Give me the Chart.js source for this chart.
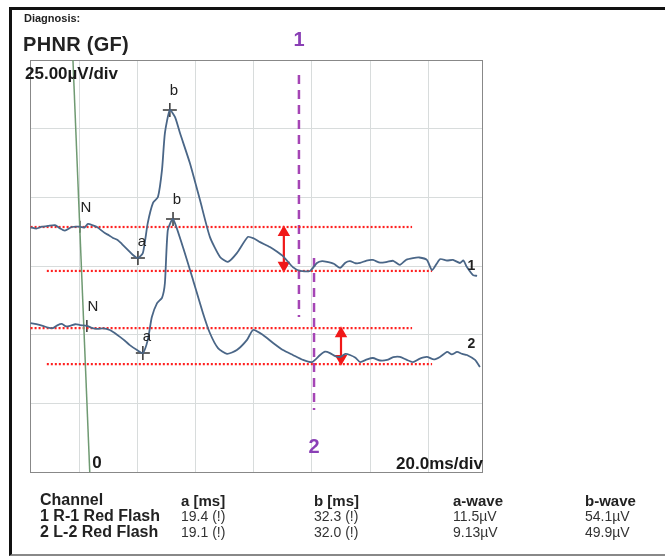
<!DOCTYPE html>
<html>
<head>
  <title>PHNR (GF)</title>
  <script src="https://cdn.jsdelivr.net/npm/chart.js@4"></script>
  <style>
    body { margin: 0; background: #fff; font-family: "Liberation Sans", Arial, sans-serif; }
    #wrap { position: relative; width: 665px; height: 556px; overflow: hidden; }
    #frame { position: absolute; left: 9px; top: 7px; width: 660px; height: 544px;
             border-left: 3px solid #111; border-top: 3px solid #111; border-bottom: 2px solid #888; }
    .t { position: absolute; white-space: nowrap; color: #222; line-height: 1; }
    .b { font-weight: bold; }
  </style>
</head>
<body>
<div id="wrap">
  <div id="frame"></div>
  <canvas id="erg" width="665" height="556" style="position:absolute;left:0;top:0"></canvas>
  <div class="t b" style="left:24px;top:13px;font-size:11px">Diagnosis:</div>
  <div class="t b" style="left:23px;top:34px;font-size:20px;letter-spacing:0.3px">PHNR (GF)</div>
  <div id="table"></div>
</div>

<script>
  // x in ms (20 ms/div), y in µV (25 µV/div), channel offsets as displayed
  const trace1 = [
    [-17, 89.1], [-15, 88.6], [-13.1, 89.3], [-11, 89.6], [-8.6, 89.9], [-7, 88.8], [-5.2, 87.9],
    [-2.8, 89.2], [0, 89.3], [1.5, 89.0], [2.8, 90.3], [4.5, 89.8], [5.9, 89.2], [8.6, 87.0],
    [10, 86.2], [11.4, 85.2], [13, 84.5], [14.5, 83.0], [16.6, 80.8], [18.3, 79.0], [20.0, 77.9],
    [21.7, 79.7], [23.4, 90.7], [25.2, 98.0], [26.9, 100.1], [28.3, 110.0], [29.3, 123.4],
    [31.0, 131.8], [32.8, 129.2], [34.5, 123.4], [37.9, 112.5], [41.4, 99.0], [44.8, 85.6],
    [48.3, 78.3], [51.0, 76.5], [54.1, 79.7], [57.9, 85.6], [60, 85.0], [62.1, 83.7], [65.5, 81.9],
    [68, 80.2], [70.0, 78.6], [73.4, 74.6], [75.9, 73.2], [79.3, 73.2], [81.7, 76.1], [83.5, 76.8],
    [85.2, 76.5], [87.5, 75.8], [89.7, 74.3], [91.5, 76.2], [93.1, 76.8], [95, 76.0], [96.6, 76.1],
    [98.8, 77.0], [101.0, 77.2], [103.5, 76.2], [105.9, 76.5], [108, 76.9], [110.3, 75.4],
    [112.5, 77.3], [114.8, 77.9], [117, 78.1], [119.6, 77.2], [121.4, 73.5], [124.1, 77.5],
    [126.5, 77.0], [128.6, 77.2], [131.0, 76.1], [132.2, 77.0], [133.4, 74.6], [135.5, 71.7], [136.9, 71.4]
  ];
  const trace2 = [
    [-17, 54.2], [-15, 53.8], [-12.8, 53.2], [-11, 52.6], [-9.3, 52.4], [-7.8, 53.4], [-6.2, 53.9],
    [-4.8, 53.0], [-3.4, 53.2], [-1.5, 53.8], [0, 53.5], [2.4, 53.2], [4, 52.5], [5.9, 52.1],
    [8, 52.3], [10.3, 51.7], [12, 50.6], [13.8, 49.2], [15.5, 47.8], [17.2, 46.2], [19.7, 44.4],
    [21.7, 43.3], [23.4, 48.1], [24.8, 56.4], [26.6, 61.5], [28.3, 63.4], [29.3, 68.8],
    [30.3, 88.1], [32.1, 92.1], [35.5, 81.9], [39.0, 69.9], [42.4, 57.9], [44.8, 50.6],
    [47.6, 45.1], [50.7, 43.0], [54.1, 44.4], [57.6, 48.1], [59.7, 51.7], [63.1, 49.9],
    [66.6, 47.0], [70.0, 44.4], [73.4, 42.6], [76.9, 40.8], [80.0, 40.0], [82.8, 42.6],
    [84.5, 43.8], [86.2, 43.3], [88, 42.2], [89.7, 41.9], [91.5, 43.0], [93.1, 42.6], [95, 41.6],
    [96.6, 40.0], [99, 41.0], [101.0, 41.5], [103.5, 40.6], [105.9, 40.8], [108, 41.8], [110.3, 41.9],
    [112.5, 40.9], [114.8, 40.0], [117, 41.2], [119.6, 41.9], [122, 41.0], [124.1, 41.9],
    [126.6, 43.7], [128.2, 42.8], [130.0, 43.7], [131.8, 43.0], [133.4, 42.6], [136.2, 40.8], [137.9, 38.2]
  ];
  const zeroLine = [[-2.4, 150], [3.4, 0]];
  // red dotted baseline/trough lines [xStart, xEnd, y]
  const refLines = [[-17, 114.5, 89.2], [-11.4, 121.4, 73.2], [-17, 114.5, 52.4], [-11.4, 121.4, 39.3]];
  // red double arrows [x, yTop, yBottom]
  const arrows = [[70.3, 89.2, 73.2], [90.0, 52.4, 39.3]];
  // purple dashed cursors [x, yTop, yBottom, label, labelY]
  const cursors = [[75.5, 144.5, 56.4, '1', 157.2], [80.7, 77.9, 22.6, '2', 8.8]];
  // peak markers [x, y, label]
  const peaks = [[20.0, 77.9, 'a'], [31.0, 131.8, 'b'], [21.7, 43.3, 'a'], [32.1, 92.1, 'b']];
  const nMarks = [[0, 89.3, 'N'], [2.4, 53.2, 'N']];
  const traceEnds = [[131.5, 75.0, '1'], [131.5, 46.5, '2']];
  const xTicks = [0, 20, 40, 60, 80, 100, 120];
  const yTicks = [25, 50, 75, 100, 125];

  const channels = ['Channel', '1 R-1 Red Flash', '2 L-2 Red Flash'];
  const aMs = ['a [ms]', '19.4 (!)', '19.1 (!)'];
  const bMs = ['b [ms]', '32.3 (!)', '32.0 (!)'];
  const aWave = ['a-wave', '11.5µV', '9.13µV'];
  const bWave = ['b-wave', '54.1µV', '49.9µV'];

  // results table, row centres at 500 / 516 / 532
  const cols = [[channels, 40], [aMs, 181], [bMs, 314], [aWave, 453], [bWave, 585]];
  const rowsMid = [500, 516, 532];
  let html = '';
  cols.forEach(([vals, left], ci) => {
    vals.forEach((v, ri) => {
      let size = 14, cls = 't', color = '';
      if (ci === 0) { cls += ' b'; size = 16; }
      else if (ri === 0) { cls += ' b'; size = 15; }
      else color = 'color:#333;';
      const top = Math.round(rowsMid[ri] - size / 2);
      html += `<div class="${cls}" style="left:${left}px;top:${top}px;font-size:${size}px;${color}">${v}</div>`;
    });
  });
  document.getElementById('table').innerHTML = html;

  const pts = arr => arr.map(([x, y]) => ({ x, y }));
  const traceColor = '#4a6687';
  const datasets = [
    { data: pts(trace1), borderColor: traceColor, borderWidth: 1.8, pointRadius: 0, tension: 0.2 },
    { data: pts(trace2), borderColor: traceColor, borderWidth: 1.8, pointRadius: 0, tension: 0.2 },
    { data: pts(zeroLine), borderColor: '#6f9a72', borderWidth: 1.5, pointRadius: 0 }
  ];
  refLines.forEach(([x0, x1, y]) => datasets.push({
    data: [{ x: x0, y }, { x: x1, y }], borderColor: '#ff2020', borderWidth: 2.2,
    borderDash: [2, 2], pointRadius: 0
  }));
  cursors.forEach(([x, y0, y1]) => datasets.push({
    data: [{ x, y: y0 }, { x, y: y1 }], borderColor: '#a545b5', borderWidth: 2.5,
    borderDash: [9, 6], pointRadius: 0
  }));
  arrows.forEach(([x, y0, y1]) => datasets.push({
    data: [{ x, y: y0 - 2 }, { x, y: y1 + 2 }], borderColor: '#f01818', borderWidth: 2.2,
    pointStyle: 'triangle', pointRadius: 5, pointRotation: [0, 180],
    pointBackgroundColor: '#f01818', pointBorderColor: '#f01818'
  }));
  datasets.push({ data: pts(peaks), showLine: false, pointStyle: 'cross', pointRadius: 7,
    pointBorderWidth: 1.5, pointBorderColor: '#333' });
  datasets.push({ data: pts(nMarks), showLine: false, pointStyle: 'line', pointRotation: 90,
    pointRadius: 6, pointBorderWidth: 1.5, pointBorderColor: '#333' });

  const labels = {
    id: 'labels',
    afterDatasetsDraw(chart) {
      const { ctx, scales: { x, y } } = chart;
      ctx.save();
      ctx.fillStyle = '#222';
      ctx.textAlign = 'center';
      ctx.textBaseline = 'middle';
      ctx.font = '15px "Liberation Sans", Arial, sans-serif';
      peaks.concat(nMarks).forEach(([vx, vy, t]) => {
        const dy = t === 'a' ? -16 : -19;
        const dx = t === 'N' ? 6 : 4;
        ctx.fillText(t, x.getPixelForValue(vx) + dx, y.getPixelForValue(vy) + dy);
      });
      ctx.font = 'bold 14px "Liberation Sans", Arial, sans-serif';
      traceEnds.forEach(([vx, vy, t]) => ctx.fillText(t, x.getPixelForValue(vx) + 10, y.getPixelForValue(vy)));
      ctx.font = 'bold 20px "Liberation Sans", Arial, sans-serif';
      ctx.fillStyle = '#8a3fb5';
      cursors.forEach(([vx, , , t, ly]) => ctx.fillText(t, x.getPixelForValue(vx), y.getPixelForValue(ly)));
      ctx.fillStyle = '#1a1a1a';
      ctx.font = 'bold 17px "Liberation Sans", Arial, sans-serif';
      ctx.textAlign = 'left';
      ctx.fillText('25.00µV/div', chart.chartArea.left - 5, chart.chartArea.top + 14);
      ctx.fillText('0', x.getPixelForValue(4.3), chart.chartArea.bottom - 9);
      ctx.textAlign = 'right';
      ctx.fillText('20.0ms/div', chart.chartArea.right + 1, chart.chartArea.bottom - 8);
      ctx.restore();
    }
  };

  new Chart(document.getElementById('erg').getContext('2d'), {
    type: 'scatter',
    data: { datasets: datasets.map(d => Object.assign({ showLine: true, fill: false }, d)) },
    options: {
      responsive: false,
      animation: false,
      devicePixelRatio: 1,
      layout: { padding: { left: 30, top: 60, right: 183, bottom: 84 } },
      plugins: { legend: { display: false }, tooltip: { enabled: false } },
      scales: {
        x: {
          type: 'linear', min: -17.2, max: 138.6,
          afterBuildTicks: s => { s.ticks = xTicks.map(v => ({ value: v })); },
          ticks: { display: false },
          grid: { color: '#d8dcdc', lineWidth: 1, drawTicks: false },
          border: { display: true, color: '#888', width: 1 }
        },
        y: {
          type: 'linear', min: 0, max: 150,
          afterBuildTicks: s => { s.ticks = yTicks.map(v => ({ value: v })); },
          ticks: { display: false },
          grid: { color: '#d8dcdc', lineWidth: 1, drawTicks: false },
          border: { display: true, color: '#888', width: 1 }
        }
      }
    },
    plugins: [labels, {
      id: 'box',
      beforeDatasetsDraw(chart) {
        const { ctx, chartArea: a } = chart;
        ctx.save();
        ctx.strokeStyle = '#888';
        ctx.lineWidth = 1;
        ctx.strokeRect(a.left + 0.5, a.top + 0.5, a.right - a.left, a.bottom - a.top);
        ctx.restore();
      }
    }]
  });
</script>
</body>
</html>
